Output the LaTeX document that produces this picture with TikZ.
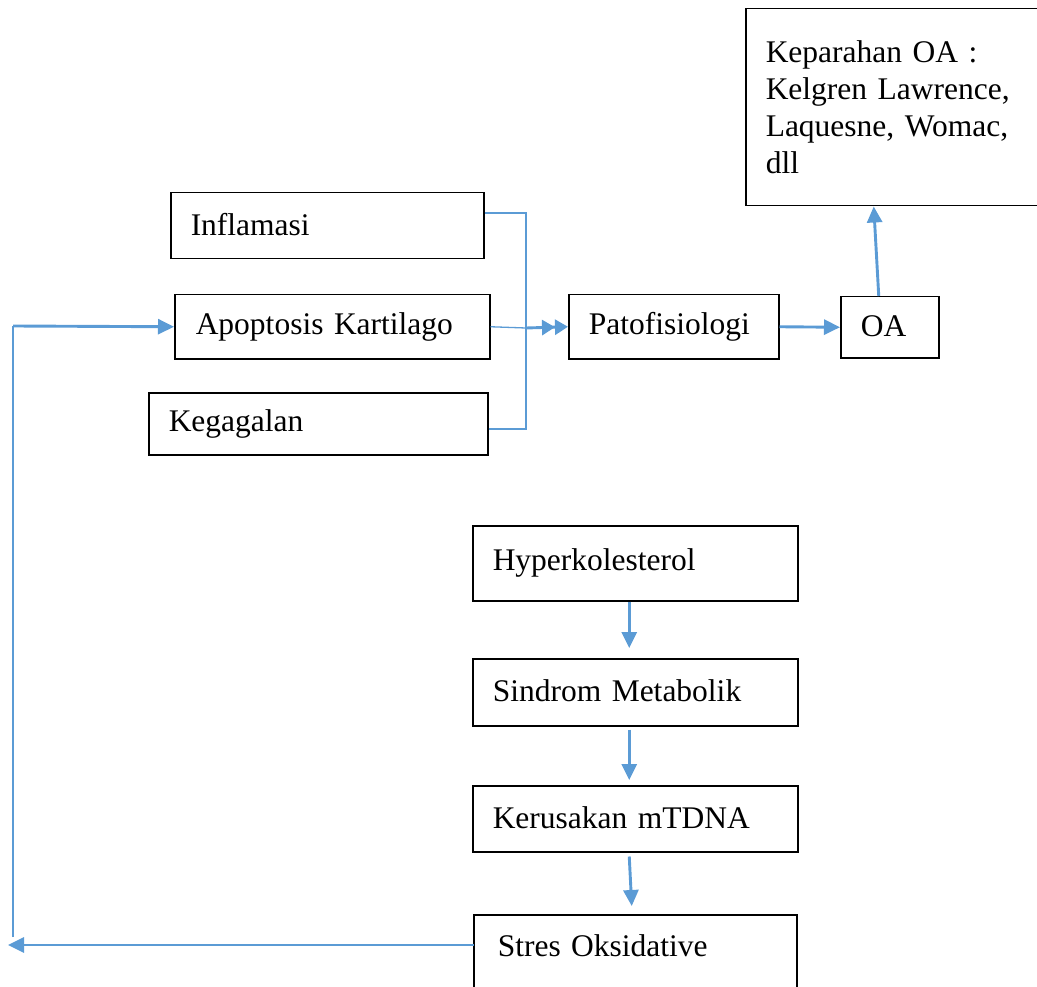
\documentclass[tikz,border=0pt]{standalone}
\usepackage{fontspec}
\setmainfont{Liberation Serif}
\usetikzlibrary{arrows.meta}
\definecolor{conn}{HTML}{5B9BD5}
\begin{document}
\begin{tikzpicture}[x=1pt,y=-1pt,
  box/.style={draw=black, line width=1.5pt, rectangle, anchor=north west, align=left,
    inner xsep=20pt, inner ysep=0pt, font=\fontsize{31.5}{37}\selectfont},
  conn/.style={draw=conn, line width=2.9pt},
  arr/.style={conn, -{Triangle[length=16pt,width=15pt]}},
  darr/.style={conn, -{Triangle[length=13pt,width=15pt]Triangle[length=13pt,width=15pt]}}
]
\clip (0,0) rectangle (1037,987);
% boxes
\node[box, minimum width=300pt, minimum height=197pt, text width=260pt] (kep) at (745,8)
  {Keparahan OA :\\Kelgren Lawrence,\\Laquesne, Womac,\\dll};
\node[box, minimum width=313pt, minimum height=66pt, text width=273pt] (infl) at (170,192) {\raisebox{3pt}{Inflamasi}};
\node[box, minimum width=313pt, minimum height=64pt, text width=273pt, inner xsep=21pt] (apo) at (174,294) {\raisebox{2pt}{Apoptosis Kartilago}};
\node[box, minimum width=339pt, minimum height=62pt, text width=299pt] (keg) at (148,392) {\raisebox{2pt}{Kegagalan}};
\node[box, minimum width=210pt, minimum height=64pt, text width=170pt] (pato) at (568,294) {\raisebox{2pt}{Patofisiologi}};
\node[box, minimum width=98pt, minimum height=61pt, text width=58pt] (oa) at (840,296) {\raisebox{2pt}{OA}};
\node[box, minimum width=325pt, minimum height=75pt, text width=285pt] (hyp) at (472,525) {\raisebox{4pt}{Hyperkolesterol}};
\node[box, minimum width=325pt, minimum height=67pt, text width=285pt] (sin) at (472,658) {\raisebox{3pt}{Sindrom Metabolik}};
\node[box, minimum width=325pt, minimum height=66pt, text width=285pt] (ker) at (472,785) {\raisebox{3pt}{Kerusakan mTDNA}};
\node[box, draw=none, minimum width=323pt, minimum height=62pt, text width=280pt, inner xsep=23pt] (str) at (474,915) {\raisebox{2pt}{Stres Oksidative}};
\draw[draw=black, line width=1.5pt] (474,1000) -- (str.north west) -- (797,915) -- (797,1000);
% merge connectors
\coordinate (j) at (526,328);
\draw[conn] ([yshift=-21pt]infl.north east) -| (j);
\draw[conn] ([yshift=-37pt]keg.north east) -| (j);
\draw[draw=conn, line width=1.3pt] (apo.east) -- (j);
\draw[darr] (j) -- (pato.west);
\draw[arr] (pato.east) -- (oa.west);
\draw[arr] ([xshift=-11pt]oa.north) -- ([xshift=-22pt]kep.south);
% vertical chain
\draw[arr] ([xshift=-6pt]hyp.south) -- ([xshift=-6pt,yshift=10pt]sin.north);
\draw[arr] ([xshift=-6pt,yshift=-3pt]sin.south) -- ([xshift=-6pt,yshift=5pt]ker.north);
\draw[arr] ([xshift=-6pt,yshift=-4pt]ker.south) -- ([xshift=-6pt,yshift=9pt]str.north);
% feedback loop
\coordinate (bl) at (8,945);
\coordinate (lt) at (13,326);
\coordinate (lb) at (13,937);
\draw[arr] ([yshift=-30pt]str.north west) -- (bl);
\draw[conn, line width=2pt] (lb) -- (lt);
\draw[arr] (lt) -- (apo.west);
\end{tikzpicture}
\end{document}
